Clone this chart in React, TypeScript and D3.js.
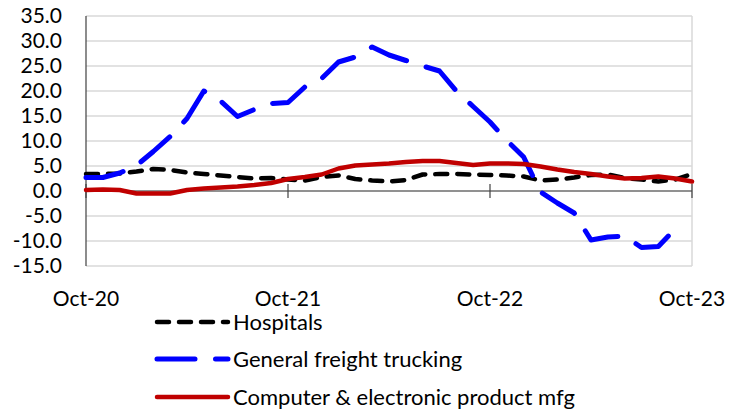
import React from "react";
import * as d3 from "d3";

// monthly, Oct-20 .. Oct-23
const months = d3.range(37);
const xTickLabels = ["Oct-20", "Oct-21", "Oct-22", "Oct-23"];
const yTicks = [35, 30, 25, 20, 15, 10, 5, 0, -5, -10, -15];

const hospitals = [
  3.4, 3.4, 3.5, 3.9, 4.4, 4.2, 3.7, 3.4, 3.1, 2.8, 2.5, 2.6, 2.3,
  2.1, 2.8, 3.1, 2.4, 2.1, 1.9, 2.2, 3.3, 3.4, 3.4, 3.3, 3.2,
  3.1, 2.9, 2.1, 2.3, 2.7, 3.2, 3.3, 2.6, 2.3, 1.9, 2.3, 3.4,
];
const trucking: (number | null)[] = [
  2.7, 2.7, 3.6, 5.1, 7.9, 10.9, 14.5, 20.0, 18.0, 14.9, 16.3, 17.5, 17.7,
  20.8, 22.5, 25.8, 26.8, 28.8, 27.2, 26.1, 25.0, 24.0, 20.0, 16.9, 13.8,
  10.1, 6.8, -0.2, -2.4, -4.4, -9.8, -9.2, -9.0, -11.3, -11.1, -7.6, null,
];
const computer = [
  0.2, 0.3, 0.2, -0.5, -0.5, -0.5, 0.2, 0.5, 0.7, 0.9, 1.2, 1.6, 2.4,
  2.8, 3.3, 4.5, 5.1, 5.3, 5.5, 5.8, 6.0, 6.0, 5.6, 5.2, 5.5,
  5.5, 5.4, 4.9, 4.3, 3.8, 3.4, 2.9, 2.5, 2.6, 2.9, 2.5, 1.9,
];

const seriesNames = ["Hospitals", "General freight trucking", "Computer & electronic product mfg"];

const FONT = "Lato, 'Liberation Sans', sans-serif";

const App = () => {
  const margin = { top: 16, left: 86, right: 692, bottom: 266 };

  const x = d3.scaleLinear().domain([0, 36]).range([margin.left, margin.right]);
  const y = d3.scaleLinear().domain([-15, 35]).range([margin.bottom, margin.top]);

  const line = d3
    .line<number | null>()
    .defined((d) => d != null)
    .x((_, i) => x(months[i]))
    .y((d) => y(d as number));

  const styles = [
    { data: hospitals, color: "#000000", width: 4.5, dash: "12 10" },
    { data: trucking, color: "#0000FF", width: 5, dash: "38 20.5" },
    { data: computer, color: "#C00000", width: 4.5, dash: undefined },
  ];

  const legendY = [322, 359, 397];

  return (
    <svg
      width={737}
      height={413}
      style={{ position: "absolute", left: 0, top: 0, background: "#fff" }}
      fontFamily={FONT}
    >
      {/* gridlines */}
      {yTicks.map((t) => (
        <line
          key={t}
          x1={margin.left}
          x2={margin.right}
          y1={y(t)}
          y2={y(t)}
          stroke="#D9D9D9"
          strokeWidth={1.5}
        />
      ))}
      <line x1={margin.right} x2={margin.right} y1={margin.top} y2={margin.bottom} stroke="#D9D9D9" strokeWidth={1.5} />

      {/* y axis */}
      <line x1={margin.left} x2={margin.left} y1={margin.top} y2={margin.bottom} stroke="#404040" strokeWidth={1.2} />
      {yTicks.map((t) => (
        <text key={t} x={62} y={y(t) + 7} textAnchor="end" fontSize={21} fill="#000">
          {t.toFixed(1)}
        </text>
      ))}

      {/* x axis at zero */}
      <line x1={margin.left} x2={margin.right} y1={y(0)} y2={y(0)} stroke="#404040" strokeWidth={1.2} />
      {xTickLabels.map((lab, i) => (
        <g key={lab} transform={`translate(${x(i * 12)},0)`}>
          <line y1={y(0) - 7} y2={y(0) + 7} stroke="#404040" strokeWidth={1.2} />
          <text y={306} textAnchor="middle" fontSize={21} fill="#000">
            {lab}
          </text>
        </g>
      ))}

      {/* series */}
      {styles.map((s, i) => (
        <path
          key={i}
          d={line(s.data) || ""}
          fill="none"
          stroke={s.color}
          strokeWidth={s.width}
          strokeDasharray={s.dash}
          strokeLinecap="round"
          strokeLinejoin="round"
        />
      ))}

      {/* legend */}
      {styles.map((s, i) => (
        <g key={i} transform={`translate(0,${legendY[i]})`}>
          <line
            x1={157}
            x2={228}
            stroke={s.color}
            strokeWidth={s.width}
            strokeDasharray={s.dash}
            strokeLinecap="round"
          />
          <text x={233} y={7.5} fontSize={22} fill="#000">
            {seriesNames[i]}
          </text>
        </g>
      ))}
    </svg>
  );
};

export default App;
